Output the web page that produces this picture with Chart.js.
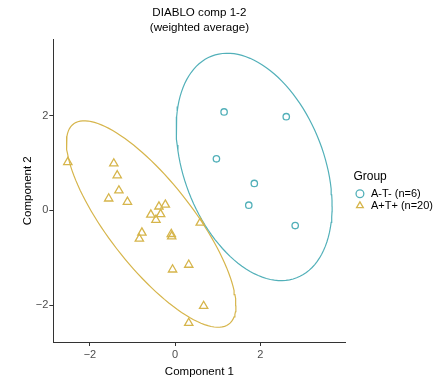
<!DOCTYPE html>
<html>
<head>
<meta charset="utf-8">
<script src="https://cdn.jsdelivr.net/npm/chart.js@4.4.1/dist/chart.umd.min.js"></script>
<style>
  html, body { margin: 0; padding: 0; background: #fff; }
  #wrap { width: 446px; height: 379px; }
</style>
</head>
<body>
<div id="wrap"><canvas id="chart" width="446" height="379"></canvas></div>
<script>
// Group A-T- (circles)
const atnX = [1.15, 2.61, 0.97, 1.86, 1.73, 2.82];
const atnY = [2.08, 1.98, 1.09, 0.57, 0.11, -0.32];
// Group A+T+ (triangles)
const atpX = [-2.52, -1.44, -1.36, -1.32, -1.56, -1.12, -0.38, -0.23, -0.57, -0.34,
              -0.45, -0.78, -0.84, -0.09, -0.08, 0.59, 0.32, -0.06, 0.67, 0.32];
const atpY = [1.02, 0.99, 0.74, 0.42, 0.25, 0.18, 0.08, 0.12, -0.09, -0.08,
              -0.20, -0.47, -0.60, -0.50, -0.55, -0.26, -1.15, -1.25, -2.02, -2.38];

const groupLabels = ['A-T- (n=6)', 'A+T+ (n=20)'];
const groupColors = ['#52b0b9', '#d6b54b'];
const xTicks = [-2, 0, 2];
const yTicks = [-2, 0, 2];

function toPoints(xs, ys) {
  return xs.map((x, i) => ({ x: x, y: ys[i] }));
}

// 95% confidence ellipse from the group's covariance (as mixOmics does)
function ellipse(xs, ys) {
  const n = xs.length;
  const mx = xs.reduce((a, b) => a + b, 0) / n;
  const my = ys.reduce((a, b) => a + b, 0) / n;
  let sxx = 0, syy = 0, sxy = 0;
  for (let i = 0; i < n; i++) {
    sxx += (xs[i] - mx) ** 2;
    syy += (ys[i] - my) ** 2;
    sxy += (xs[i] - mx) * (ys[i] - my);
  }
  sxx /= n - 1; syy /= n - 1; sxy /= n - 1;
  const a = Math.sqrt(sxx), b = sxy / a, c = Math.sqrt(syy - b * b);
  const r = Math.sqrt(-2 * Math.log(0.05));
  const pts = [];
  for (let k = 0; k <= 120; k++) {
    const t = 2 * Math.PI * k / 120;
    pts.push({ x: mx + r * a * Math.cos(t), y: my + r * (b * Math.cos(t) + c * Math.sin(t)) });
  }
  return pts;
}

const minus = v => String(v).replace('-', '\u2212');

// leave a small gap between the panel and the legend, like ggplot
const legendGap = {
  id: 'legendGap',
  afterLayout(chart) {
    chart.legend.left += 8;
    chart.legend.right += 8;
  }
};

new Chart(document.getElementById('chart'), {
  type: 'scatter',
  data: {
    datasets: [
      {
        label: groupLabels[0],
        data: toPoints(atnX, atnY),
        pointStyle: 'circle',
        pointRadius: 3.2,
        borderWidth: 1.3,
        borderColor: groupColors[0],
        backgroundColor: 'rgba(0,0,0,0)'
      },
      {
        label: groupLabels[1],
        data: toPoints(atpX, atpY),
        pointStyle: 'triangle',
        pointRadius: 4.8,
        borderWidth: 1.3,
        borderColor: groupColors[1],
        backgroundColor: 'rgba(0,0,0,0)'
      },
      {
        label: 'ellipse1',
        data: ellipse(atnX, atnY),
        showLine: true,
        pointRadius: 0,
        borderWidth: 1.2,
        borderColor: groupColors[0],
        tension: 0
      },
      {
        label: 'ellipse2',
        data: ellipse(atpX, atpY),
        showLine: true,
        pointRadius: 0,
        borderWidth: 1.2,
        borderColor: groupColors[1],
        tension: 0
      }
    ]
  },
  plugins: [legendGap],
  options: {
    responsive: false,
    animation: false,
    layout: { padding: { left: 21, right: 11, top: 4, bottom: 0 } },
    plugins: {
      title: {
        display: true,
        text: ['DIABLO comp 1-2', '(weighted average)'],
        fullSize: false,
        color: '#000',
        font: { family: 'Liberation Sans', size: 11.6, weight: 'normal', lineHeight: 1.23 },
        padding: { top: 2, bottom: 5 }
      },
      legend: {
        position: 'right',
        align: 'center',
        title: {
          display: true,
          text: 'Group',
          color: '#000',
          position: 'start',
          font: { family: 'Liberation Sans', size: 12 },
          padding: { top: 0, bottom: 2 }
        },
        labels: {
          usePointStyle: true,
          boxWidth: 11,
          boxHeight: 5.5,
          padding: 1,
          color: '#000',
          font: { family: 'Liberation Sans', size: 11 },
          filter: item => item.datasetIndex < 2
        }
      },
      tooltip: { enabled: false }
    },
    scales: {
      x: {
        type: 'linear',
        min: -2.86,
        max: 4.0,
        afterBuildTicks: axis => { axis.ticks = xTicks.map(v => ({ value: v })); },
        grid: { drawOnChartArea: false, drawTicks: true, tickLength: 4, color: '#333' },
        border: { display: true, color: '#333', width: 1 },
        ticks: {
          color: '#4d4d4d',
          padding: 2,
          font: { family: 'Liberation Sans', size: 11 },
          callback: v => minus(v)
        },
        title: {
          display: true,
          text: 'Component 1',
          color: '#000',
          font: { family: 'Liberation Sans', size: 11.5 },
          padding: { top: 2, bottom: 0 }
        }
      },
      y: {
        type: 'linear',
        min: -2.78,
        max: 3.61,
        afterBuildTicks: axis => { axis.ticks = yTicks.map(v => ({ value: v })); },
        grid: { drawOnChartArea: false, drawTicks: true, tickLength: 4, color: '#333' },
        border: { display: true, color: '#333', width: 1 },
        ticks: {
          color: '#4d4d4d',
          padding: 1,
          font: { family: 'Liberation Sans', size: 11 },
          callback: v => minus(v)
        },
        title: {
          display: true,
          text: 'Component 2',
          color: '#000',
          font: { family: 'Liberation Sans', size: 11.5 },
          padding: { top: 0, bottom: 0 }
        }
      }
    }
  }
});
</script>
</body>
</html>
